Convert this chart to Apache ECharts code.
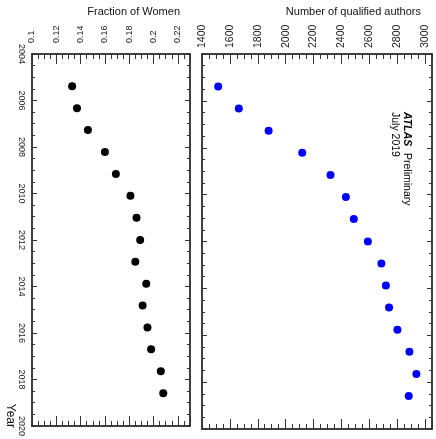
<!DOCTYPE html>
<html>
<head>
<meta charset="utf-8">
<script src="https://cdn.jsdelivr.net/npm/echarts@6/dist/echarts.min.js"></script>
<style>
  html, body { margin: 0; padding: 0; background: #fff; }
  #chart { width: 436px; height: 439px; }
</style>
</head>
<body>
<div id="chart"></div>
<script>
const years = [2005.39, 2006.33, 2007.27, 2008.21, 2009.16, 2010.10, 2011.04, 2012.00,
               2012.94, 2013.88, 2014.82, 2015.76, 2016.70, 2017.65, 2018.59];
const fracWomen = [0.133, 0.137, 0.146, 0.160, 0.169, 0.181, 0.186, 0.189,
                   0.185, 0.194, 0.191, 0.195, 0.198, 0.206, 0.208];
const nAuthors = [1516, 1664, 1878, 2119, 2322, 2432, 2489, 2590,
                  2687, 2719, 2742, 2802, 2888, 2938, 2883];

const FONT = 'Liberation Sans';

function plainNum(v) {
    return String(parseFloat(Number(v).toFixed(4)));
}

// x axis (value axis, drawn on top/bottom). major = labelled, minor = short ticks only
function valAxis(grid, pos, min, max, step, tickLen, showLabel, labelSize, margin, showLine) {
    return {
        type: 'value',
        gridIndex: grid,
        position: pos,
        min: min,
        max: max,
        interval: step,
        splitLine: { show: false },
        axisLine: { show: showLine, onZero: false, lineStyle: { color: '#000', width: 1.5 } },
        axisTick: { show: true, inside: true, length: tickLen, lineStyle: { color: '#333', width: 1 } },
        axisLabel: {
            show: showLabel,
            rotate: -90,
            margin: margin,
            showMaxLabel: false,
            color: '#222',
            fontFamily: FONT,
            fontSize: labelSize,
            formatter: plainNum
        }
    };
}

// year axis (vertical, 2004 on top)
function yearAxis(grid, pos, showLabel) {
    return {
        type: 'value',
        gridIndex: grid,
        position: pos,
        inverse: true,
        min: 2004,
        max: 2020,
        interval: 2,
        splitLine: { show: false },
        axisLine: { show: true, onZero: false, lineStyle: { color: '#000', width: 1.5 } },
        axisTick: { show: true, inside: true, length: 5, lineStyle: { color: '#333' } },
        minorTick: { show: true, splitNumber: 4, length: 3, lineStyle: { color: '#333' } },
        axisLabel: {
            show: showLabel,
            rotate: -90,
            margin: 6,
            color: '#222',
            fontFamily: FONT,
            fontSize: 9,
            formatter: plainNum
        }
    };
}

const chart = echarts.init(document.getElementById('chart'));

const option = {
    backgroundColor: '#fff',
    animation: false,
    grid: [
        { left: 32, top: 54, width: 158, height: 375 },
        { left: 202, top: 54, width: 230, height: 375 }
    ],
    xAxis: [
        valAxis(0, 'top', 0.1, 0.23, 0.02, 10, true, 9, 11, true),
        valAxis(0, 'top', 0.1, 0.23, 0.005, 5, false, 9, 0, false),
        valAxis(0, 'bottom', 0.1, 0.23, 0.02, 10, false, 9, 0, true),
        valAxis(0, 'bottom', 0.1, 0.23, 0.005, 5, false, 9, 0, false),
        valAxis(1, 'top', 1400, 3050, 200, 10, true, 10.5, 6, true),
        valAxis(1, 'top', 1400, 3050, 50, 5, false, 10, 0, false),
        valAxis(1, 'bottom', 1400, 3050, 200, 10, false, 10, 0, true),
        valAxis(1, 'bottom', 1400, 3050, 50, 5, false, 10, 0, false)
    ],
    yAxis: [
        yearAxis(0, 'left', true),
        yearAxis(0, 'right', false),
        yearAxis(1, 'left', false),
        yearAxis(1, 'right', false)
    ],
    graphic: [
        {
            type: 'text', x: 180, y: 12,
            style: { text: 'Fraction of Women', font: '11px "Liberation Sans"', fill: '#111',
                     textAlign: 'right', textVerticalAlign: 'middle' }
        },
        {
            type: 'text', x: 421, y: 12,
            style: { text: 'Number of qualified authors', font: '11px "Liberation Sans"', fill: '#111',
                     textAlign: 'right', textVerticalAlign: 'middle' }
        },
        {
            type: 'text', x: 10, y: 428, rotation: -Math.PI / 2,
            style: { text: 'Year', font: '12px "Liberation Sans"', fill: '#111',
                     textAlign: 'right', textVerticalAlign: 'middle' }
        },
        {
            type: 'text', x: 407, y: 112, rotation: -Math.PI / 2,
            style: { text: 'ATLAS', font: 'italic bold 10.5px "Liberation Sans"', fill: '#000',
                     textAlign: 'left', textVerticalAlign: 'middle' }
        },
        {
            type: 'text', x: 407, y: 153, rotation: -Math.PI / 2,
            style: { text: 'Preliminary', font: '10.5px "Liberation Sans"', fill: '#000',
                     textAlign: 'left', textVerticalAlign: 'middle' }
        },
        {
            type: 'text', x: 395, y: 112, rotation: -Math.PI / 2,
            style: { text: 'July 2019', font: '10.5px "Liberation Sans"', fill: '#000',
                     textAlign: 'left', textVerticalAlign: 'middle' }
        }
    ],
    series: [
        {
            name: 'Fraction of Women',
            type: 'scatter',
            xAxisIndex: 0,
            yAxisIndex: 0,
            symbolSize: 8,
            itemStyle: { color: '#000', opacity: 1 },
            data: years.map((y, i) => [fracWomen[i], y])
        },
        {
            name: 'Number of qualified authors',
            type: 'scatter',
            xAxisIndex: 4,
            yAxisIndex: 2,
            symbolSize: 8,
            itemStyle: { color: '#0000ff', opacity: 1 },
            data: years.map((y, i) => [nAuthors[i], y])
        }
    ]
};

chart.setOption(option);
</script>
</body>
</html>
